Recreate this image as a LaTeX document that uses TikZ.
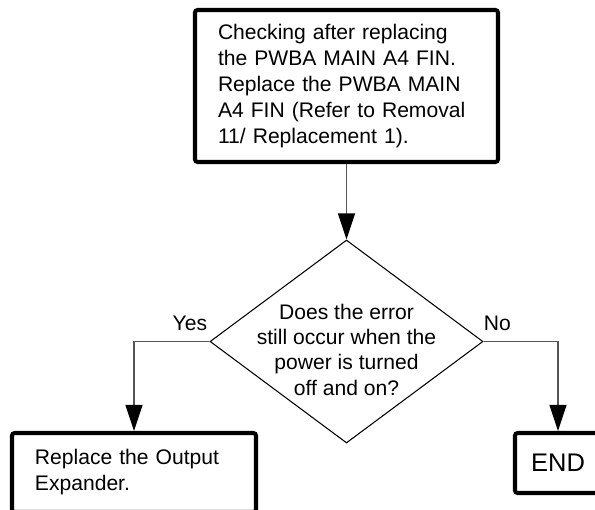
\documentclass[tikz,border=0pt]{standalone}
\usepackage{fontspec}
\setmainfont{Liberation Sans}
\usepackage{tikz}
\usetikzlibrary{arrows.meta,shapes.geometric}
\definecolor{flline}{HTML}{555555}

\begin{document}
\begin{tikzpicture}[
  font=\fontsize{12}{14.8}\selectfont,
  box/.style={draw,line width=2.3pt,rounded corners=1.5pt,inner xsep=0.46cm,inner ysep=0pt,align=left},
  dec/.style={draw,diamond,line width=0.6pt,inner sep=0pt,minimum width=5.46cm,minimum height=4.06cm},
  qtxt/.style={inner sep=0pt,align=center,font=\fontsize{12}{14.4}\selectfont},
  arr/.style={-{Triangle[length=5.2mm,width=3.4mm,color=black]},draw=flline,line width=0.6pt},
  lbl/.style={inner sep=0pt}]
  \clip (0,0) rectangle (11.9,-10.18);
  % check box
  \node[box,text width=5.14cm,minimum height=3.04cm] (chk) at (6.93,-1.72)
    {Checking after replacing\\the PWBA MAIN A4 FIN.\\Replace the PWBA MAIN\\A4 FIN (Refer to Removal\\11/ Replacement 1).};
  % question
  \node[dec] (q) at (6.93,-6.83) {};
  \node[qtxt] (qt) at (6.93,-6.99)
    {Does the error\\still occur when the\\power is turned\\off and on?};
  % results
  \node[box,text width=3.96cm,minimum height=1.58cm] (rep) at (2.68,-9.45)
    {Replace the Output\\Expander.};
  \node[box,minimum width=1.72cm,minimum height=1.2cm,inner xsep=0pt,align=center,
    font=\fontsize{14.5}{17}\selectfont] (end) at (11.16,-9.26) {END};
  \draw[arr] (chk.south) -- (q.north);
  \draw[arr] (q.west) -| (rep.north);
  \draw[arr] (q.east) -| (end.north);
  \node[lbl,anchor=base east] (yes) at ([shift={(-0.04,0.22)}]q.west) {Yes};
  \node[lbl,anchor=base west] (no) at ([yshift=0.22cm]q.east) {No};
\end{tikzpicture}
\end{document}
